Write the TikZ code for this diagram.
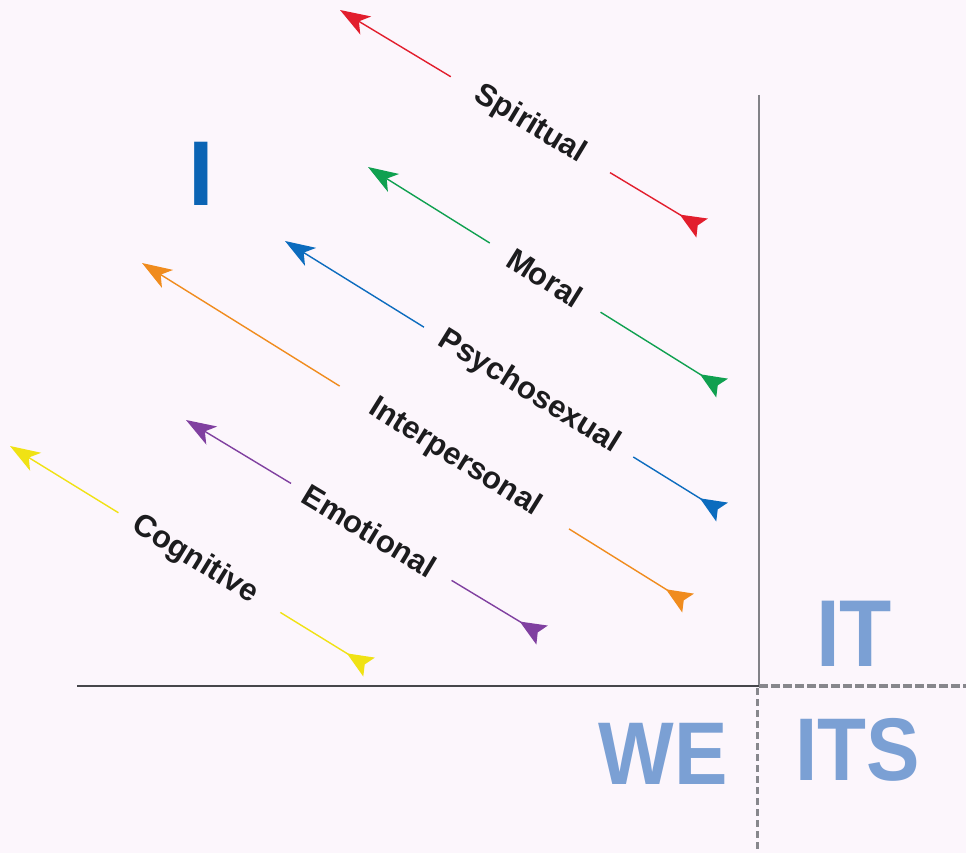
\documentclass[tikz,border=0pt]{standalone}
\usepackage{fontspec}
\setmainfont{Liberation Sans}
\usetikzlibrary{arrows.meta,calc}
\definecolor{bg}{RGB}{252,246,252}
\definecolor{labtext}{RGB}{28,28,30}
\definecolor{redc}{RGB}{226,30,45}
\definecolor{greenc}{RGB}{16,160,80}
\definecolor{bluec}{RGB}{12,108,190}
\definecolor{orangec}{RGB}{240,140,30}
\definecolor{purplec}{RGB}{128,64,160}
\definecolor{yellowc}{RGB}{240,226,20}
\definecolor{iblue}{RGB}{11,100,180}
\definecolor{quad}{RGB}{123,160,212}
\definecolor{axisv}{RGB}{130,130,135}
\definecolor{axish}{RGB}{70,70,75}
\definecolor{dashc}{RGB}{135,135,140}
\begin{document}
\begin{tikzpicture}[x=1pt,y=-1pt,
  lab/.style={font=\bfseries\fontsize{31}{31}\selectfont, text=labtext, inner sep=0pt},
  shaft/.style={line width=1.4pt},
  headtip/.style={-{Stealth[length=30pt,width=21pt,inset=8pt]}},
  fletch/.style={-{Stealth[reversed,length=26pt,width=22pt,inset=5pt]}},
  big/.style={text=quad, inner sep=0pt, anchor=base},
  dashline/.style={draw=dashc, line width=4pt, dash pattern=on 9pt off 3pt},
  dashvert/.style={draw=dashc, line width=3pt, dash pattern=on 7pt off 4pt},
]
\fill[bg] (0,0) rectangle (966,853);
\useasboundingbox (0,0) rectangle (966,853);

% axes
\coordinate (O) at (759,686);
\coordinate (Vtop) at (759,95);
\coordinate (Hleft) at (77,686);
\coordinate (Hright) at (966,686);
\coordinate (Dtop) at (757,688);
\coordinate (Dbot) at (757,853);
\draw[axisv, line width=1.5pt] (Vtop) -- (O);
\draw[axish, line width=1.5pt] (Hleft) -- (O);
\draw[dashline] (O) -- (Hright);
\draw[dashvert] (Dtop) -- (Dbot);

% quadrant labels
\node[big, text=iblue, font=\bfseries\fontsize{92}{92}\selectfont] (I) at (201,206) {I};
\node[big, font=\bfseries\fontsize{95}{95}\selectfont] (IT) at (854,666) {\scalebox{0.9}[1]{IT}};
\node[big, font=\bfseries\fontsize{89}{89}\selectfont] (WE) at (663,784) {\scalebox{0.9}[1]{WE}};
\node[big, font=\bfseries\fontsize{89}{89}\selectfont] (ITS) at (858,780) {\scalebox{0.9}[1]{ITS}};

% Spiritual (red)
\coordinate (Rt) at (340,10); \coordinate (Rf) at (702,228);
\path (Rt) -- node[lab, sloped, pos=0.525] (Rl) {Spiritual} (Rf);
\draw[shaft, headtip, redc] ($(Rt)!0.306!(Rf)$) -- (Rt);
\draw[shaft, fletch, redc] ($(Rt)!0.746!(Rf)$) -- (Rf);

% Moral (green)
\coordinate (Gt) at (368,167); \coordinate (Gf) at (722,388);
\path (Gt) -- node[lab, sloped, pos=0.50] (Gl) {Moral} (Gf);
\draw[shaft, headtip, greenc] ($(Gt)!0.344!(Gf)$) -- (Gt);
\draw[shaft, fletch, greenc] ($(Gt)!0.657!(Gf)$) -- (Gf);

% Psychosexual (blue)
\coordinate (Bt) at (285,241); \coordinate (Bf) at (722,512);
\path (Bt) -- node[lab, sloped, pos=0.558] (Bl) {Psychosexual} (Bf);
\draw[shaft, headtip, bluec] ($(Bt)!0.318!(Bf)$) -- (Bt);
\draw[shaft, fletch, bluec] ($(Bt)!0.797!(Bf)$) -- (Bf);

% Interpersonal (orange)
\coordinate (Ot) at (142,263); \coordinate (Of) at (688,603);
\path (Ot) -- node[lab, sloped, pos=0.573] (Ol) {Interpersonal} (Of);
\draw[shaft, headtip, orangec] ($(Ot)!0.362!(Of)$) -- (Ot);
\draw[shaft, fletch, orangec] ($(Ot)!0.782!(Of)$) -- (Of);

% Emotional (purple)
\coordinate (Pt) at (186,420); \coordinate (Pf) at (542,635);
\path (Pt) -- node[lab, sloped, pos=0.515] (Pl) {Emotional} (Pf);
\draw[shaft, headtip, purplec] ($(Pt)!0.295!(Pf)$) -- (Pt);
\draw[shaft, fletch, purplec] ($(Pt)!0.746!(Pf)$) -- (Pf);

% Cognitive (yellow)
\coordinate (Yt) at (10,446); \coordinate (Yf) at (369,667);
\path (Yt) -- node[lab, sloped, pos=0.515] (Yl) {Cognitive} (Yf);
\draw[shaft, headtip, yellowc] ($(Yt)!0.302!(Yf)$) -- (Yt);
\draw[shaft, fletch, yellowc] ($(Yt)!0.753!(Yf)$) -- (Yf);
\end{tikzpicture}
\end{document}
